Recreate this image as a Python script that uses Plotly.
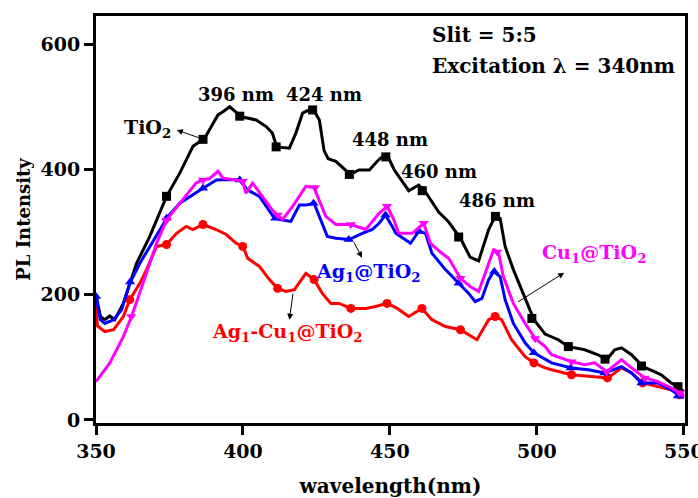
import plotly.graph_objects as go

# ---- data ----
tio2_x = [350, 351.5, 353, 354.7, 356.4, 359.3, 363.8, 368.3, 374, 378.5, 383, 387, 389.2, 391.5, 393.2, 395.5, 398, 399.5,
          404.5, 408, 410, 411.5, 415.8, 418, 420.3, 422, 424, 426, 427.6, 429, 431.6, 435, 436.5, 439.5, 443, 445.7, 448,
          449.5, 451.5, 456.4, 459.8, 462.1, 466.6, 470, 474, 477.3, 480.2, 483.6, 485.8, 487.5, 489.2, 492, 494.8, 499,
          502.8, 507.3, 510.7, 516.3, 520.8, 523.7, 526.5, 528.8, 532.2, 536.1, 540, 542.3, 545.7, 548, 550]
tio2_y = [200, 165, 160, 166, 160, 186, 250, 293, 357, 394, 437, 450, 468, 487, 492, 500, 490, 484,
          479, 468, 458, 436, 434, 458, 490, 494, 495, 479, 430, 417, 413, 399, 392, 399, 399, 413, 423,
          419, 399, 366, 375, 364, 332, 316, 290, 260, 254, 304, 325, 322, 277, 240, 208, 160,
          137, 128, 117, 112, 104, 96, 112, 115, 104, 85, 77, 72, 59, 53, 45]

ag_x = [350, 351.5, 353, 356, 358.7, 361.5, 364.9, 368.3, 371.7, 374.5, 378.5, 382, 386.4, 391, 395.4, 398.8, 401.6, 405.6,
        408, 410.7, 413.5, 416.3, 419.2, 421.4, 424.2, 426.5, 428.7, 431.6, 436.1, 440.6, 444, 446.3, 448.5, 450.8, 452,
        457, 459.8, 462.1, 464.3, 468.9, 473.4, 476.8, 479, 481.3, 483.6, 485.3, 487.5, 489.2, 492, 496, 499, 502.8, 505,
        511.8, 517.5, 523.1, 528.8, 532.2, 535.6, 541.2, 545.7, 548, 550]
ag_y = [197, 160, 154, 160, 176, 218, 250, 277, 304, 325, 346, 357, 370, 383, 384, 383, 367, 357,
        341, 322, 319, 317, 343, 343, 346, 319, 293, 290, 288, 298, 304, 314, 327, 309, 298,
        282, 301, 298, 266, 240, 218, 202, 189, 194, 224, 237, 229, 192, 154, 123, 107, 96, 91,
        83, 80, 75, 85, 75, 59, 59, 48, 40, 35]

cu_x = [350, 354.7, 359.3, 362.1, 366, 370.6, 374, 378.5, 384, 386, 388.5, 391.5, 393.2, 397.7, 399.9, 401, 403.3, 406.6,
        410, 413.5, 416.9, 421.4, 424.2, 425.9, 428.2, 431.6, 436.7, 441.8, 444, 446.3, 449.1, 451.4, 453, 457.6, 461.5,
        463.8, 467.7, 470, 474, 477.3, 480.2, 483, 485.3, 486.9, 488.6, 492, 496, 499.4, 502.8, 505, 511.8, 516.3, 519.7,
        523.7, 528.8, 532.2, 536.7, 541.2, 545.7, 548.6, 550]
cu_y = [61, 91, 133, 165, 218, 282, 319, 346, 378, 383, 385, 397, 386, 383, 381, 362, 378, 357,
        335, 320, 341, 373, 371, 351, 325, 312, 312, 304, 317, 330, 341, 319, 298, 298, 314,
        282, 266, 258, 226, 213, 205, 240, 272, 268, 229, 186, 154, 130, 117, 104, 93, 88, 91,
        77, 96, 83, 67, 61, 51, 43, 38]

agcu_x = [350, 350.5, 353, 356, 359.3, 361.5, 364.9, 367.2, 370.6, 374, 377.4, 380.7, 383, 386.4, 390.9, 394.3, 397.7, 400,
          401.6, 405.6, 409, 411.8, 414.6, 417.5, 421.4, 424.2, 427, 429.9, 432.7, 436.7, 441.8, 445.1, 449.1, 452.5,
          456.4, 460.9, 464.3, 468.9, 474, 479.6, 483.6, 485.8, 488, 491.4, 496, 499, 502.8, 505, 511.8, 518.6, 524.2,
          528.8, 532.2, 536.1, 541.2, 545.7, 548.6, 550]
agcu_y = [184, 150, 141, 144, 165, 192, 218, 240, 277, 280, 298, 309, 304, 312, 304, 296, 282, 277,
          258, 245, 224, 210, 205, 208, 234, 224, 202, 186, 186, 178, 178, 181, 186, 178,
          165, 178, 160, 149, 144, 128, 160, 165, 160, 128, 101, 91, 83, 80, 72, 69, 67,
          83, 75, 59, 53, 48, 40, 36]

# marker positions (symbols drawn on each curve)
tio2_mx = [374, 386.4, 398.9, 411.3, 423.7, 436.2, 448.6, 461, 473.4, 485.9, 498.3, 510.7, 523.2, 535.6, 548]
tio2_my = [357, 448, 485, 436, 495, 392, 420, 366, 292, 325, 162, 117, 97, 86, 53]
ag_mx = [350, 361.6, 374, 386.4, 398.9, 411, 424, 436, 448.5, 460, 473.4, 485.5, 499, 511.5, 523, 535.6, 548]
ag_my = [197, 220, 322, 370, 383, 322, 346, 288, 327, 301, 218, 237, 107, 83, 75, 59, 38]
cu_mx = [362, 374, 386.4, 399.9, 411.8, 424.5, 436.7, 449, 461.5, 474, 486.5, 499.4, 511.8, 523.7, 536.7, 548.6]
cu_my = [165, 319, 383, 381, 327, 371, 312, 341, 314, 226, 268, 130, 93, 77, 67, 43]
agcu_mx = [361.5, 374, 386.4, 399.9, 411.8, 424.2, 436.7, 449, 460.9, 474, 485.8, 499, 511.8, 524, 536, 548.6]
agcu_my = [192, 280, 312, 277, 210, 224, 178, 186, 178, 144, 165, 91, 72, 67, 59, 40]

x_ticks = [350, 400, 450, 500, 550]
y_ticks = [0, 200, 400, 600]

peak_labels = ["396 nm", "424 nm", "448 nm", "460 nm", "486 nm"]
peak_lx = [397.5, 427.6, 450.0, 466.6, 486.6]
peak_ly = [519, 519, 447, 396, 351]

FONT = "DejaVu Serif"
BLACK, BLUE, MAGENTA, RED = "#000000", "#0000FF", "#FF00FF", "#FF0000"

fig = go.Figure()
series = [
    (tio2_x, tio2_y, tio2_mx, tio2_my, BLACK, "square"),
    (agcu_x, agcu_y, agcu_mx, agcu_my, RED, "circle"),
    (ag_x, ag_y, ag_mx, ag_my, BLUE, "triangle-up"),
    (cu_x, cu_y, cu_mx, cu_my, MAGENTA, "triangle-down"),
]
for xs, ys, mx, my, col, sym in series:
    fig.add_trace(go.Scatter(x=xs, y=ys, mode="lines", line=dict(color=col, width=3),
                             showlegend=False, hoverinfo="skip"))
    fig.add_trace(go.Scatter(x=mx, y=my, mode="markers",
                             marker=dict(color=col, symbol=sym, size=9, line=dict(width=0)),
                             showlegend=False, hoverinfo="skip"))

ann = []
for t, x, y in zip(peak_labels, peak_lx, peak_ly):
    ann.append(dict(x=x, y=y, text=t, showarrow=False, xanchor="center", yanchor="middle",
                    font=dict(family=FONT, size=18, color=BLACK, weight="bold")))

ann.append(dict(x=463.6, y=615, text="Slit = 5:5", showarrow=False, xanchor="left", yanchor="middle",
                font=dict(family=FONT, size=20, color=BLACK, weight="bold")))
ann.append(dict(x=463.6, y=565, text="Excitation λ = 340nm", showarrow=False, xanchor="left", yanchor="middle",
                font=dict(family=FONT, size=20, color=BLACK, weight="bold")))

labels = [
    ("TiO<sub>2</sub>", 367.6, 466, BLACK),
    ("Ag<sub>1</sub>@TiO<sub>2</sub>", 442.5, 235, BLUE),
    ("Ag<sub>1</sub>-Cu<sub>1</sub>@TiO<sub>2</sub>", 415.3, 140, RED),
    ("Cu<sub>1</sub>@TiO<sub>2</sub>", 519.5, 265, MAGENTA),
]
for t, x, y, c in labels:
    ann.append(dict(x=x, y=y, text=t, showarrow=False, xanchor="center", yanchor="middle",
                    font=dict(family=FONT, size=19, color=c, weight="bold")))

arrows = [  # head (x, y), tail (ax, ay)
    (377.5, 463, 385.3, 450),
    (440.5, 259, 437.5, 286),
    (415.8, 160, 417.1, 204),
    (509.3, 235, 493.1, 187),
]
for hx, hy, tx, ty in arrows:
    ann.append(dict(x=hx, y=hy, ax=tx, ay=ty, xref="x", yref="y", axref="x", ayref="y", text="",
                    showarrow=True, arrowhead=2, arrowsize=1.2, arrowwidth=1, arrowcolor=BLACK))

axis_common = dict(showline=True, linewidth=3, linecolor=BLACK, mirror=True, ticks="outside",
                   ticklen=9, tickwidth=3, tickcolor=BLACK, showgrid=False, zeroline=False,
                   ticklabeloverflow="allow", automargin=False,
                   tickfont=dict(family=FONT, size=19, color=BLACK, weight="bold"))

fig.update_layout(
    width=698, height=498,
    margin=dict(l=96, r=13, t=16, b=75),
    paper_bgcolor="white", plot_bgcolor="white",
    xaxis=dict(range=[350, 550.4], tickvals=x_ticks,
               title=dict(text="wavelength(nm)", font=dict(family=FONT, size=20, color=BLACK, weight="bold"),
                          standoff=20),
               **axis_common),
    yaxis=dict(range=[-5, 645], tickvals=y_ticks,
               title=dict(text="PL Intensity", font=dict(family=FONT, size=18, color=BLACK, weight="bold"),
                          standoff=6),
               **axis_common),
    annotations=ann,
)

fig.write_html("out.html")
